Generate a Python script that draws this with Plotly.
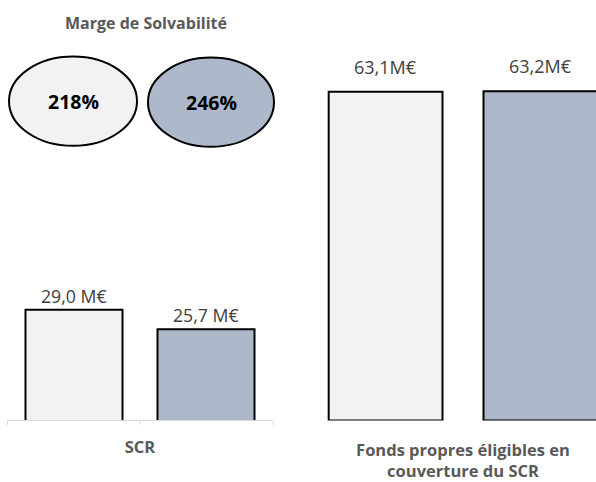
import plotly.graph_objects as go

# data
series_names = ["N-1", "N"]
series_colors = ["#F2F2F2", "#ADB9CA"]
solvency_ratios = ["218%", "246%"]

scr_category = ["SCR"]
scr_values = [29.0, 25.7]
scr_labels = ["29,0 M€", "25,7 M€"]

fonds_category = ["Fonds propres éligibles en<br>couverture du SCR"]
fonds_values = [63.1, 63.2]
fonds_labels = ["63,1M€", "63,2M€"]

W, H = 596, 482
FONT = "Open Sans"
GREY = "#595959"
bargap = 0.0075
bargroupgap = 0.265

fig = go.Figure()

for i in range(2):
    fig.add_trace(go.Bar(
        x=scr_category, y=[scr_values[i]], name=series_names[i],
        marker=dict(color=series_colors[i], line=dict(color="black", width=2)),
        xaxis="x", yaxis="y", offsetgroup=str(i), showlegend=False,
    ))
    fig.add_trace(go.Bar(
        x=fonds_category, y=[fonds_values[i]], name=series_names[i],
        marker=dict(color=series_colors[i], line=dict(color="black", width=2)),
        xaxis="x2", yaxis="y2", offsetgroup=str(i), showlegend=False,
    ))

# value labels above bars (bar centres follow the group layout)
offsets = [-(1 - bargap) / 4, (1 - bargap) / 4]
annotations = []
for i in range(2):
    annotations.append(dict(x=offsets[i], y=scr_values[i], xref="x", yref="y",
                            text=scr_labels[i], showarrow=False, xanchor="center",
                            yanchor="bottom", yshift=0,
                            font=dict(family=FONT, size=17.7, color="#404040")))
    annotations.append(dict(x=offsets[i], y=fonds_values[i], xref="x2", yref="y2",
                            text=fonds_labels[i], showarrow=False, xanchor="center",
                            yanchor="bottom", yshift=11,
                            font=dict(family=FONT, size=18, color="#404040")))

# solvency ratio ellipses
ellipses = [(9, 57, 137, 147), (148, 58, 274, 148)]
shapes = []
for i, (x0, y0, x1, y1) in enumerate(ellipses):
    shapes.append(dict(type="circle", xref="paper", yref="paper",
                       x0=x0 / W, x1=x1 / W, y0=1 - y1 / H, y1=1 - y0 / H,
                       fillcolor=series_colors[i], line=dict(color="black", width=2)))
    annotations.append(dict(x=(x0 + x1) / 2 / W, y=1 - (y0 + y1) / 2 / H, xref="paper", yref="paper",
                            text=solvency_ratios[i], showarrow=False,
                            xanchor="center", yanchor="middle",
                            font=dict(family=FONT, size=19.5, color="black", weight="bold")))

annotations.append(dict(x=146 / W, y=1 - 23 / H, xref="paper", yref="paper",
                        text="Marge de Solvabilité", showarrow=False,
                        xanchor="center", yanchor="middle",
                        font=dict(family=FONT, size=16, color=GREY, weight="bold")))

# middle tick on the SCR axis
shapes.append(dict(type="line", xref="x", yref="y domain", x0=0, x1=0, y0=0, y1=-0.015,
                   line=dict(color="#D9D9D9", width=1)))

fig.update_layout(
    width=W, height=H,
    margin=dict(l=0, r=0, t=0, b=0),
    paper_bgcolor="white", plot_bgcolor="white",
    barmode="group", bargap=bargap, bargroupgap=bargroupgap,
    font=dict(family=FONT, color=GREY),
    xaxis=dict(domain=[7 / W, 273 / W], anchor="y", showline=True, linecolor="#D9D9D9",
               ticks="outside", tickson="boundaries", ticklen=4, tickcolor="#D9D9D9",
               ticklabelstandoff=12,
               tickfont=dict(family=FONT, size=16.5, color=GREY, weight="bold")),
    yaxis=dict(domain=[1 - 424 / H, 1 - 160 / H], anchor="x", range=[10.3, 54.5],
               showticklabels=False, showgrid=False, zeroline=False),
    xaxis2=dict(domain=[307 / W, 1], anchor="y2", range=[-0.5, -0.5 + 289 / 312],
                showline=False, ticks="", ticklabelstandoff=18,
                tickfont=dict(family=FONT, size=16.5, color=GREY, weight="bold")),
    yaxis2=dict(domain=[1 - 424 / H, 1 - 40 / H], anchor="x2", range=[0, 73.1],
                showticklabels=False, showgrid=False, zeroline=False),
    annotations=annotations,
    shapes=shapes,
)

fig.write_html("out.html", config={"displayModeBar": False},
               post_script="document.body.style.margin = '0';")
